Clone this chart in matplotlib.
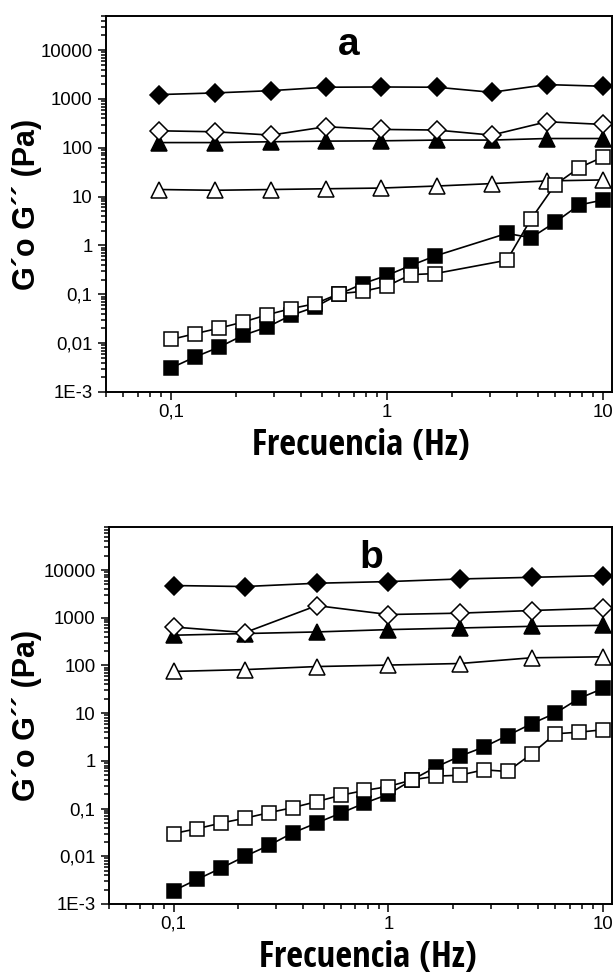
import matplotlib
matplotlib.use("Agg")
import matplotlib.pyplot as plt
from matplotlib import font_manager as fm
from matplotlib.textpath import TextToPath
from matplotlib.ticker import FixedLocator, FuncFormatter, NullFormatter

# ---- Panel a -------------------------------------------------------------
freq_a = [0.088, 0.16, 0.29, 0.52, 0.94, 1.7, 3.05, 5.5, 10.0]
a_g1_storage = [1230, 1330, 1480, 1740, 1760, 1740, 1370, 1970, 1820]
a_g1_loss = [223, 213, 182, 270, 238, 231, 182, 342, 301]
a_g2_storage = [128, 128, 133, 137, 139, 144, 144, 155, 155]
a_g2_loss = [14, 13.5, 14, 14.5, 15, 16.5, 18.5, 21, 22]

freq_a_sq = [0.1, 0.129, 0.167, 0.215, 0.278, 0.359, 0.464, 0.599, 0.774,
             1.0, 1.29, 1.67, 3.59, 4.64, 5.99, 7.74, 10.0]
a_sol_loss = [0.0119, 0.0156, 0.0203, 0.027, 0.038, 0.051, 0.064, 0.103,
              0.115, 0.148, 0.253, 0.266, 0.5, 3.47, 17.4, 39, 65]
a_sol_storage = [0.0031, 0.0052, 0.0083, 0.0144, 0.0213, 0.037, 0.055, 0.1,
                 0.166, 0.245, 0.39, 0.61, 1.77, 1.44, 2.97, 6.74, 8.55]

# ---- Panel b -------------------------------------------------------------
freq_b = [0.1, 0.215, 0.464, 1.0, 2.15, 4.64, 10.0]
b_g1_storage = [4740, 4520, 5300, 5740, 6510, 7050, 7640]
b_g1_loss = [640, 490, 1800, 1170, 1250, 1420, 1590]
b_g2_storage = [431, 467, 505, 565, 611, 662, 694]
b_g2_loss = [75, 82, 95, 102, 110, 145, 152]

freq_b_sq = [0.1, 0.129, 0.167, 0.215, 0.278, 0.359, 0.464, 0.599, 0.774,
             1.0, 1.29, 1.67, 2.15, 2.78, 3.59, 4.64, 5.99, 7.74, 10.0]
b_sol_loss = [0.030, 0.038, 0.050, 0.063, 0.082, 0.105, 0.14, 0.19, 0.24,
              0.29, 0.40, 0.48, 0.50, 0.65, 0.60, 1.4, 3.7, 4.0, 4.5]
b_sol_storage = [0.0019, 0.0033, 0.0057, 0.010, 0.017, 0.031, 0.050, 0.080,
                 0.13, 0.20, 0.40, 0.75, 1.25, 1.95, 3.4, 6.0, 10.0, 20.5, 33]

y_ticks = [1e-3, 1e-2, 1e-1, 1, 10, 100, 1000, 10000]
y_tick_labels = ["1E-3", "0,01", "0,1", "1", "10", "100", "1000", "10000"]
x_ticks = [0.1, 1, 10]
x_tick_labels = ["0,1", "1", "10"]

XLABEL = "Frecuencia (Hz)"
YLABEL = "G\u00b4o G\u00b4\u00b4 (Pa)"

plt.rcParams["font.family"] = ["Liberation Sans", "DejaVu Sans"]

DPI = 100
W_PX, H_PX = 615, 977


def _weight_value(w):
    if isinstance(w, str):
        return fm.weight_dict.get(w, 400)
    return w


def narrow_bold_font(text, cap_px, width_px):
    """Pick the installed bold sans face whose shape best fits a tall,
    narrow label, and return (FontProperties, size in points)."""
    ttp = TextToPath()
    wanted = width_px / cap_px
    families = ("Liberation Sans", "DejaVu Sans", "Noto Sans", "Roboto",
                "Open Sans", "Lato", "Inter", "Arial")
    best = None
    for entry in fm.fontManager.ttflist:
        name = entry.name
        if not any(name.startswith(f) for f in families):
            continue
        if "Mono" in name or "CJK" in name or entry.style != "normal":
            continue
        if not 600 <= _weight_value(entry.weight) <= 800:
            continue
        try:
            prop = fm.FontProperties(fname=entry.fname, size=100)
            cap = ttp.get_text_width_height_descent("H", prop, ismath=False)[1]
            wid = ttp.get_text_width_height_descent(text, prop, ismath=False)[0]
        except Exception:
            continue
        if cap <= 0:
            continue
        score = abs(wid / cap - wanted)
        if best is None or score < best[0]:
            best = (score, entry.fname, cap / 100.0, wid / 100.0)
    if best is None:
        return fm.FontProperties(family="Liberation Sans", weight="bold"), 24
    _, fname, cap_pt, wid_pt = best
    px_per_pt = DPI / 72.0
    size_cap = cap_px / (cap_pt * px_per_pt)
    size_wid = width_px / (wid_pt * px_per_pt)
    size = (size_cap * size_wid) ** 0.5
    return fm.FontProperties(fname=fname), size


xlabel_prop, xlabel_size = narrow_bold_font(XLABEL, 28, 202)

fig = plt.figure(figsize=(W_PX / DPI, H_PX / DPI), dpi=DPI)

LW = 1.2
MEW = 1.1


def minor_positions(lo_exp, hi_exp):
    vals = []
    for e in range(lo_exp, hi_exp + 1):
        for m in range(2, 10):
            vals.append(m * 10.0 ** e)
    return vals


def fx(px):
    return px / W_PX


def fy(px):
    return 1 - px / H_PX


def draw_panel(ax, letter, f_main, g1s, g1l, g2s, g2l, f_sq, sol_l, sol_s,
               ytop, letter_xy):
    kw = dict(color="black", lw=LW, mew=MEW, mec="black", clip_on=False)
    ax.plot(f_sq, sol_s, marker="s", ms=9.6, mfc="black", zorder=3, **kw)
    ax.plot(f_sq, sol_l, marker="s", ms=9.6, mfc="white", zorder=4, **kw)
    ax.plot(f_main, g2l, marker="^", ms=11.5, mfc="white", zorder=3, **kw)
    ax.plot(f_main, g2s, marker="^", ms=11.5, mfc="black", zorder=3, **kw)
    ax.plot(f_main, g1l, marker="D", ms=8.8, mfc="white", zorder=4, **kw)
    ax.plot(f_main, g1s, marker="D", ms=8.8, mfc="black", zorder=4, **kw)

    ax.set_xscale("log")
    ax.set_yscale("log")
    ax.set_xlim(0.05, 11)
    ax.set_ylim(1e-3, ytop)

    ax.xaxis.set_major_locator(FixedLocator(x_ticks))
    ax.xaxis.set_major_formatter(FuncFormatter(
        lambda v, p: x_tick_labels[min(range(len(x_ticks)),
                                       key=lambda i: abs(x_ticks[i] - v))]))
    ax.xaxis.set_minor_locator(FixedLocator(minor_positions(-2, 0)))
    ax.xaxis.set_minor_formatter(NullFormatter())

    ax.yaxis.set_major_locator(FixedLocator(y_ticks))
    ax.yaxis.set_major_formatter(FuncFormatter(
        lambda v, p: y_tick_labels[min(range(len(y_ticks)),
                                       key=lambda i: abs(y_ticks[i] - v))]))
    ax.yaxis.set_minor_locator(FixedLocator(minor_positions(-3, 4)))
    ax.yaxis.set_minor_formatter(NullFormatter())

    ax.tick_params(which="both", direction="out", top=False, right=False,
                   width=1.1, colors="black", labelsize=13.4)
    ax.tick_params(which="major", length=5.8)
    ax.tick_params(axis="x", which="major", pad=2.5)
    ax.tick_params(axis="y", which="major", pad=4)
    ax.tick_params(which="minor", length=3.6)
    for s in ax.spines.values():
        s.set_linewidth(1.4)

    ax.text(letter_xy[0], letter_xy[1], letter, transform=ax.transAxes,
            ha="center", va="baseline", fontsize=28, fontweight="bold")


# panel boxes in pixels: left, right, top, bottom
box_a = (106, 612, 16, 392)
box_b = (109, 612, 527, 904)


def add_box(box):
    l, r, t, b = box
    return fig.add_axes([fx(l), fy(b), fx(r) - fx(l), fy(t) - fy(b)])


ax_a = add_box(box_a)
draw_panel(ax_a, "a", freq_a, a_g1_storage, a_g1_loss, a_g2_storage,
           a_g2_loss, freq_a_sq, a_sol_loss, a_sol_storage, 5e4,
           (0.48, 0.895))

ax_b = add_box(box_b)
draw_panel(ax_b, "b", freq_b, b_g1_storage, b_g1_loss, b_g2_storage,
           b_g2_loss, freq_b_sq, b_sol_loss, b_sol_storage, 8e4,
           (0.522, 0.891))

# axis titles
for box, xc in ((box_a, 361), (box_b, 368)):
    l, r, t, b = box
    fig.text(fx(xc), fy(b + 63), XLABEL, ha="center", va="baseline",
             fontproperties=xlabel_prop, fontsize=xlabel_size)
    fig.text(fx(27), fy((t + b) / 2), YLABEL, rotation=90, ha="center",
             va="center", fontsize=22, fontweight="bold")

fig.savefig("out.png", dpi=DPI)
